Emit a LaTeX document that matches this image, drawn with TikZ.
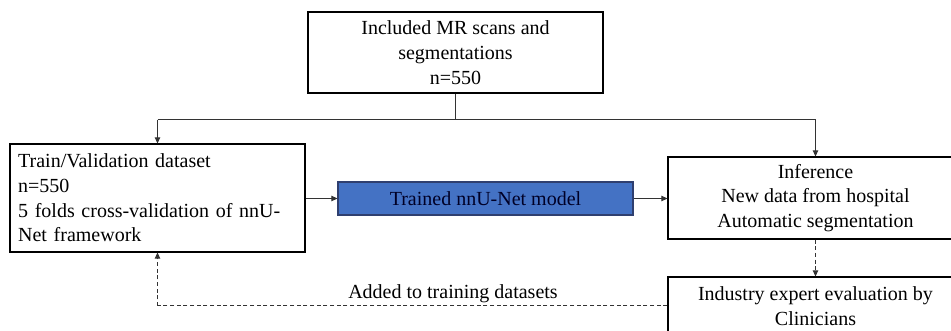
\documentclass[tikz,border=0pt]{standalone}
\usepackage{fontspec}
\setmainfont{Liberation Serif}
\usetikzlibrary{arrows.meta}
\definecolor{boxblue}{HTML}{4472C4}
\definecolor{boxblueline}{HTML}{2F3F6F}
\definecolor{lineg}{HTML}{333333}
\begin{document}
\begin{tikzpicture}[x=0.75pt,y=-0.75pt,
  txt/.style={font=\fontsize{15}{18.5}\selectfont},
  box/.style={draw=black,line width=0.8pt,fill=white,txt,minimum width=221.25pt,inner sep=0pt,align=center},
  conn/.style={draw=lineg,line width=0.75pt,-{Triangle[length=4.5pt,width=4pt]}},
  plain/.style={draw=lineg,line width=0.75pt},
  dconn/.style={conn,dashed,dash pattern=on 3pt off 2pt}]
\useasboundingbox (0,0) rectangle (951,331);
\clip (0,0) rectangle (951,331);
\fill[white] (0,0) rectangle (951,331);
\node[box,minimum height=60.75pt] (top) at (455.5,52.5) {Included MR scans and\\segmentations\\n=550};
\node[box,minimum height=81pt,align=left,text width=209pt] (left) at (157.5,198) {Train/Validation dataset\\n=550\\5 folds cross-validation of nnU-\\Net framework};
\node[box,fill=boxblue,draw=boxblueline,minimum height=24.75pt,text=black!85!blue] (mid) at (485.5,198.5) {Trained nnU-Net model};
\node[box,minimum height=61.5pt] (inf) at (815.5,198) {Inference\\New data from hospital\\Automatic segmentation};
\node[box,minimum height=43.5pt] (eval) at (815.5,306) {Industry expert evaluation by\\Clinicians};
\coordinate (j) at (455.5,120);
\coordinate (jl) at (157.5,120);
\coordinate (jr) at (815.5,120);
\coordinate (dl) at (157.5,306);
\draw[plain] (top.south) -- (j);
\draw[plain] (jl) -- (jr);
\draw[conn] (jl) -- (left.north);
\draw[conn] (jr) -- (inf.north);
\draw[conn] (left.east |- mid.west) -- (mid.west);
\draw[conn] (mid.east) -- (inf.west |- mid.east);
\draw[dconn] (inf.south) -- (eval.north);
\draw[plain,dashed,dash pattern=on 3pt off 2pt] (eval.west) -- (dl);
\draw[dconn] (dl) -- (left.south);
\node[txt,inner sep=0pt] (lbl) at (453,294) {Added to training datasets};
\end{tikzpicture}
\end{document}
